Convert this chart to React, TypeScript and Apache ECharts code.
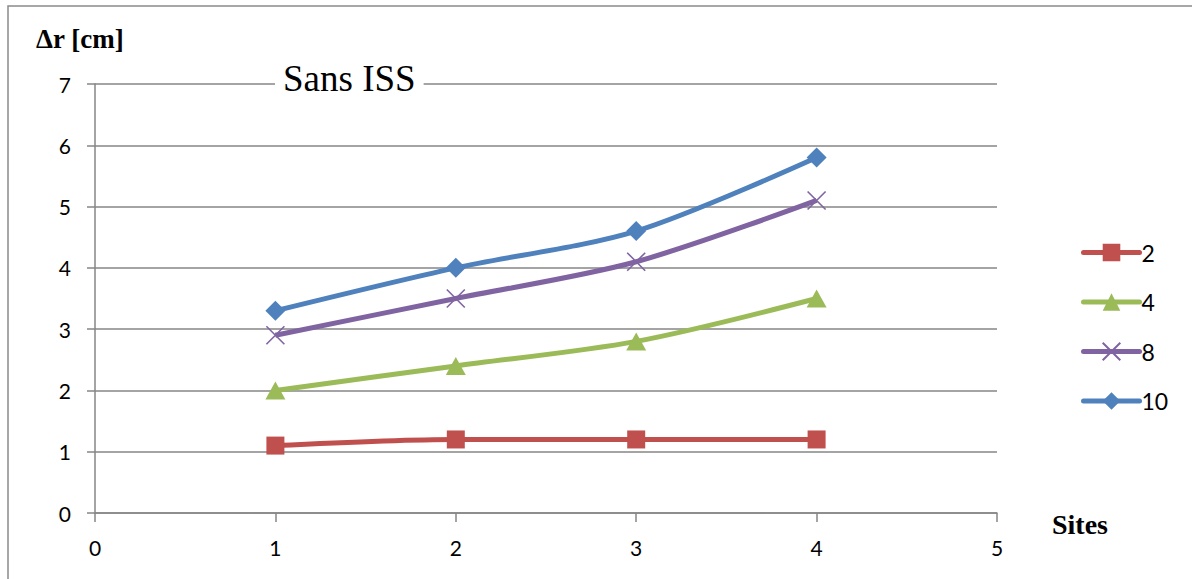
import React, { useEffect, useRef } from "react";
import * as echarts from "echarts";

// Sites along the x axis
const sites = [1, 2, 3, 4];
// Δr [cm] for each series
const s2 = [1.1, 1.2, 1.2, 1.2];
const s4 = [2.0, 2.4, 2.8, 3.5];
const s8 = [2.9, 3.5, 4.1, 5.1];
const s10 = [3.3, 4.0, 4.6, 5.8];
const seriesNames = ["2", "4", "8", "10"];
const xTicks = [0, 1, 2, 3, 4, 5];

const RED = "#C0504D";
const GREEN = "#9BBB59";
const PURPLE = "#8064A2";
const BLUE = "#4F81BD";
const GRID = "#868686";

const CROSS = "path://M0,0 L10,10 M10,0 L0,10";

function pairs(vals: number[]) {
  return sites.map((s, i) => [s, vals[i]]);
}

export default function App() {
  const ref = useRef<HTMLDivElement>(null);

  useEffect(() => {
    if (!ref.current) return;
    const chart = echarts.init(ref.current, undefined, { renderer: "svg" });
    const labelFont = { fontFamily: "Lato, 'Open Sans', sans-serif", fontSize: 21, color: "#000" };
    const option: any = {
      animation: false,
      backgroundColor: "#fff",
      title: {
        text: "Sans ISS",
        left: 275,
        top: 58,
        backgroundColor: "#fff",
        padding: [2, 8],
        textStyle: {
          fontFamily: "'Liberation Serif', serif",
          fontSize: 37,
          fontWeight: "normal",
          color: "#000",
        },
      },
      grid: { left: 95, right: 195, top: 84, bottom: 66, containLabel: false },
      legend: {
        orient: "vertical",
        left: 1076,
        top: 236,
        itemWidth: 56,
        itemHeight: 22,
        itemGap: 26.5,
        data: seriesNames,
        lineStyle: { width: 5, cap: "round" },
        textStyle: { ...labelFont, fontSize: 23, lineHeight: 22, padding: [0, 0, 0, -3] },
      },
      xAxis: {
        type: "value",
        min: 0,
        max: 5,
        interval: 1,
        splitLine: { show: false },
        axisLine: { show: true, onZero: false, lineStyle: { color: GRID, width: 1.5 } },
        axisTick: { show: true, length: 9, lineStyle: { color: GRID, width: 1.5 } },
        axisLabel: {
          ...labelFont,
          margin: 24,
          formatter: (v: number) => (xTicks.includes(v) ? String(v) : ""),
        },
      },
      yAxis: {
        type: "value",
        min: 0,
        max: 7,
        interval: 1,
        splitLine: { show: true, lineStyle: { color: GRID, width: 1.5 } },
        axisLine: { show: true, lineStyle: { color: GRID, width: 1.5 } },
        axisTick: { show: true, length: 8, lineStyle: { color: GRID, width: 1.5 } },
        axisLabel: { ...labelFont, margin: 24 },
      },
      graphic: [
        {
          type: "rect",
          shape: { x: 8, y: 6, width: 1300, height: 700 },
          style: { fill: "none", stroke: "#8a8a8a", lineWidth: 1.5 },
          silent: true,
          z: -10,
        },
        {
          type: "text",
          left: 36,
          top: 25,
          style: {
            text: "Δr [cm]",
            font: "bold 27px 'Liberation Serif', serif",
            fill: "#000",
          },
        },
        {
          type: "text",
          left: 1052,
          top: 510,
          style: {
            text: "Sites",
            font: "bold 28px 'Liberation Serif', serif",
            fill: "#000",
          },
        },
      ],
      series: [
        {
          name: "2",
          type: "line",
          data: pairs(s2),
          smooth: 0.3,
          symbol: "rect",
          symbolSize: 18,
          lineStyle: { color: RED, width: 5 },
          itemStyle: { color: RED },
          z: 2,
        },
        {
          name: "4",
          type: "line",
          data: pairs(s4),
          smooth: 0.3,
          symbol: "triangle",
          symbolSize: [20, 18],
          lineStyle: { color: GREEN, width: 5 },
          itemStyle: { color: GREEN },
          z: 3,
        },
        {
          name: "8",
          type: "line",
          data: pairs(s8),
          smooth: 0.3,
          symbol: CROSS,
          symbolSize: 18,
          lineStyle: { color: PURPLE, width: 5 },
          itemStyle: { color: "rgba(0,0,0,0)", borderColor: PURPLE, borderWidth: 1.6 },
          z: 4,
        },
        {
          name: "10",
          type: "line",
          data: pairs(s10),
          smooth: 0.3,
          symbol: "diamond",
          symbolSize: 20,
          lineStyle: { color: BLUE, width: 5 },
          itemStyle: { color: BLUE },
          z: 5,
        },
      ],
    };
    chart.setOption(option);
    return () => chart.dispose();
  }, []);

  return (
    <div
      ref={ref}
      style={{ position: "fixed", left: 0, top: 0, width: 1192, height: 579 }}
    />
  );
}
